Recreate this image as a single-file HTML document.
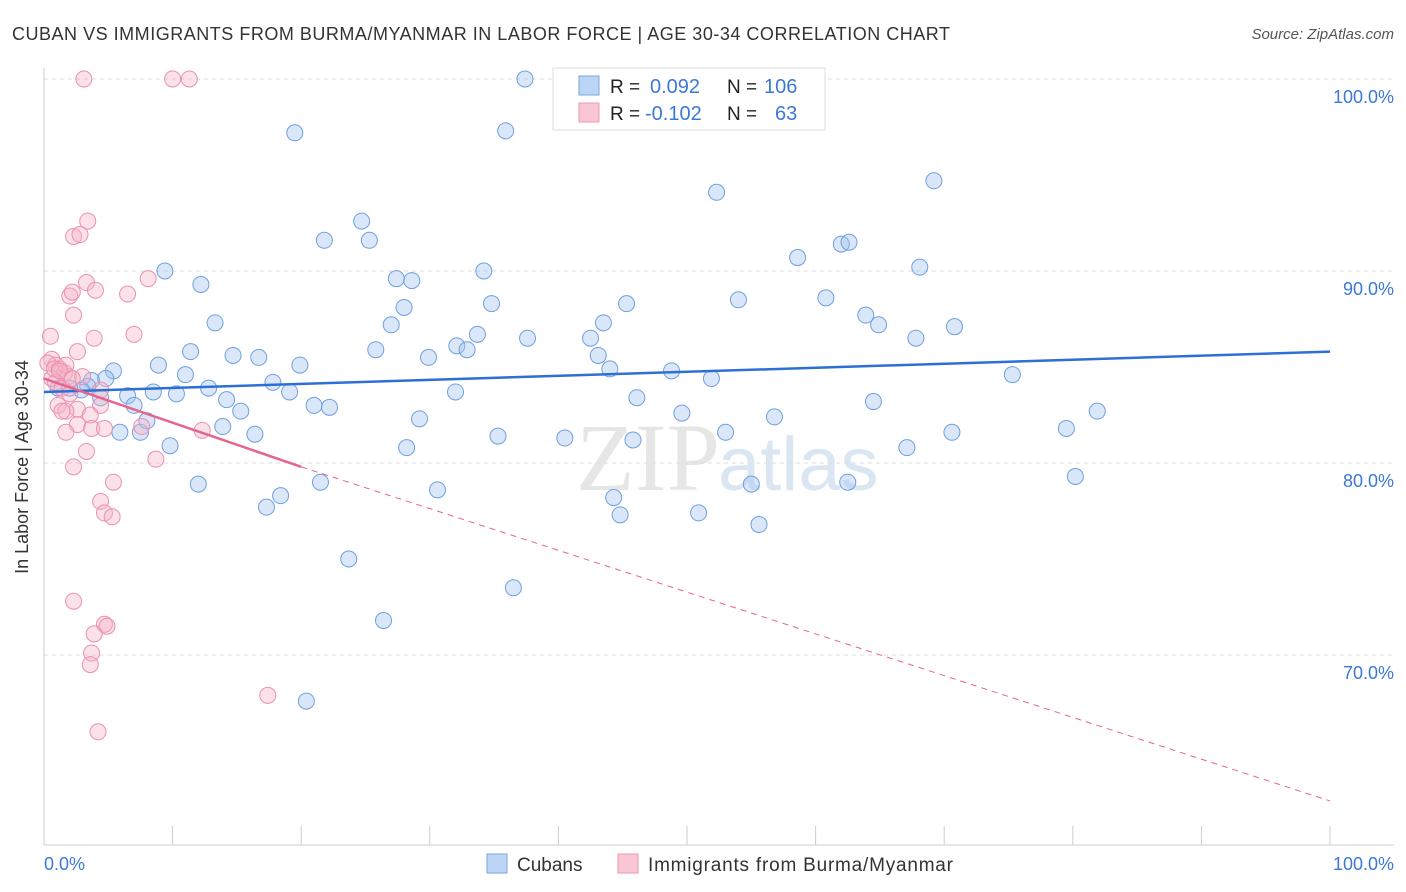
<!DOCTYPE html>
<html><head><meta charset="utf-8"><style>
body{margin:0;background:#fff;font-family:"Liberation Sans",sans-serif;}
svg{display:block}
</style></head><body>
<svg width="1406" height="892" xmlns="http://www.w3.org/2000/svg">
<text x="12" y="40" font-size="18" fill="#333" textLength="938" lengthAdjust="spacing">CUBAN VS IMMIGRANTS FROM BURMA/MYANMAR IN LABOR FORCE | AGE 30-34 CORRELATION CHART</text>
<text x="1394" y="39" font-size="15" fill="#555" font-style="italic" text-anchor="end">Source: ZipAtlas.com</text>
<text x="720" y="490" font-size="96" fill="#e6e6e6" text-anchor="end" font-family="Liberation Serif,serif">ZIP</text>
<text x="718" y="490" font-size="76" fill="#dbe6f3">atlas</text>
<g id="grid"></g>
<line x1="44" y1="68" x2="44" y2="845" stroke="#ccc"/>
<line x1="44" y1="845" x2="1394" y2="845" stroke="#ccc"/>
<g id="xticks"></g>
<text x="19" y="458" font-size="18" fill="#333" text-anchor="middle" transform="rotate(-90 28 458)">In Labor Force | Age 30-34</text>
<text x="44" y="870" font-size="18" fill="#3b78d8">0.0%</text>
<text x="1394" y="870" font-size="18" fill="#3b78d8" text-anchor="end">100.0%</text>
<g id="pts"></g>
<g id="trend"></g>
<g>
<rect x="553" y="68" width="272" height="62" fill="#fff" stroke="#ddd"/>
<rect x="579" y="76" width="20" height="19" fill="#bcd5f5" stroke="#7aa6e0"/>
<rect x="579" y="103" width="20" height="19" fill="#f9c6d4" stroke="#ee9ab2"/>
<text x="610" y="93" font-size="19" fill="#222">R = </text><text x="650" y="93" font-size="20" fill="#3b78d8">0.092</text>
<text x="727" y="93" font-size="19" fill="#222">N = </text><text x="764" y="93" font-size="20" fill="#3b78d8">106</text>
<text x="610" y="120" font-size="19" fill="#222">R = </text><text x="645" y="120" font-size="20" fill="#3b78d8">-0.102</text>
<text x="727" y="120" font-size="19" fill="#222">N = </text><text x="775" y="120" font-size="20" fill="#3b78d8">63</text>
</g>
<g>
<rect x="487" y="854" width="20" height="19" fill="#bcd5f5" stroke="#7aa6e0"/>
<text x="517" y="871" font-size="19" fill="#333">Cubans</text>
<rect x="618" y="854" width="20" height="19" fill="#f9c6d4" stroke="#ee9ab2"/>
<text x="648" y="871" font-size="19" fill="#333" textLength="305" lengthAdjust="spacing">Immigrants from Burma/Myanmar</text>
</g>
</svg>
<script>
const yTicks=[100,90,80,70];
const yTickLabels=["100.0%","90.0%","80.0%","70.0%"];
const xTickVals=[0,10,20,30,40,50,60,70,80,90,100];
const blueX=[37.4,19.5,35.9,52.3,69.2,24.7,21.8,25.3,62.0,62.6,9.4,34.2,58.6,68.1,12.2,27.4,28.6,34.8,28.0,45.3,54.0,60.8,13.3,27.0,43.5,63.9,64.9,70.8,33.7,37.6,42.5,67.8,25.8,32.1,32.9,11.4,14.7,16.7,29.9,43.1,8.9,19.9,5.4,44.0,48.8,51.9,75.3,3.7,4.8,11.0,17.8,1.1,3.4,12.8,8.5,10.3,19.1,32.0,6.5,4.4,14.2,7.0,46.1,64.5,15.3,21.0,22.2,81.9,49.6,56.8,29.2,13.9,5.9,7.5,16.4,35.3,40.5,53.0,70.6,79.5,9.8,28.2,45.8,67.1,21.5,12.0,30.6,55.0,62.5,80.2,18.4,17.3,44.3,44.8,50.9,55.6,23.7,36.5,26.4,20.4,8.0,2.9,2.0];
const blueY=[100,97.2,97.3,94.1,94.7,92.6,91.6,91.6,91.4,91.5,90.0,90.0,90.7,90.2,89.3,89.6,89.5,88.3,88.1,88.3,88.5,88.6,87.3,87.2,87.3,87.7,87.2,87.1,86.7,86.5,86.5,86.5,85.9,86.1,85.9,85.8,85.6,85.5,85.5,85.6,85.1,85.1,84.8,84.9,84.8,84.4,84.6,84.3,84.4,84.6,84.2,83.9,84.0,83.9,83.7,83.6,83.7,83.7,83.5,83.4,83.3,83.0,83.4,83.2,82.7,83.0,82.9,82.7,82.6,82.4,82.3,81.9,81.6,81.6,81.5,81.4,81.3,81.6,81.6,81.8,80.9,80.8,81.2,80.8,79.0,78.9,78.6,78.9,79.0,79.3,78.3,77.7,78.2,77.3,77.4,76.8,75.0,73.5,71.8,67.6,82.2,83.8,83.9];
const pinkX=[3.1,10.0,11.3,3.4,2.3,2.8,3.3,8.1,4.0,2.0,2.2,6.5,2.3,3.9,7.0,0.5,2.6,0.6,0.9,0.3,1.2,1.6,1.9,0.6,0.9,3.0,1.4,4.4,2.0,1.1,2.6,4.4,1.7,3.6,1.4,2.6,3.7,4.7,1.7,12.3,3.3,8.7,2.3,5.4,4.4,4.7,5.3,2.3,4.7,4.9,3.9,3.7,3.6,17.4,4.2,7.6,0.8,1.7,1.2,2.2];
const pinkY=[100,100,100,92.6,91.8,91.9,89.4,89.6,89.0,88.7,88.9,88.8,87.7,86.5,86.7,86.6,85.8,85.4,85.1,85.2,84.9,84.7,84.5,84.4,84.2,84.5,83.9,83.8,83.6,83.0,82.8,83.0,82.7,82.5,82.7,82.0,81.8,81.8,81.6,81.7,80.6,80.2,79.8,79.0,78.0,77.4,77.2,72.8,71.6,71.5,71.1,70.1,69.5,67.9,66.0,81.9,84.9,85.1,84.8,84.4];
const ns="http://www.w3.org/2000/svg";
const X=v=>44+v*12.86, Y=v=>79+(100-v)*19.2;
function mk(t,a,p){const e=document.createElementNS(ns,t);for(const k in a)e.setAttribute(k,a[k]);document.getElementById(p).appendChild(e);return e;}
yTicks.forEach((v,i)=>{
 const l=mk('line',{x1:44,x2:1394,y1:Y(v),y2:Y(v),stroke:'#ddd','stroke-dasharray':'4,4'},'grid');
 
 
 const t=mk('text',{x:1394,y:Y(v)+24,'font-size':18,fill:'#3b78d8','text-anchor':'end'},'grid');
 t.textContent=yTickLabels[i];
 
 
});
xTickVals.forEach(v=>{
 const l=mk('line',{x1:X(v),x2:X(v),y1:826,y2:845,stroke:'#ccc'},'xticks');
 
 
});
blueX.forEach((x,i)=>{
 const c=mk('circle',{cx:X(x),cy:Y(blueY[i]),r:8,fill:'rgba(160,196,240,0.4)',stroke:'#6f9fe0','stroke-width':1},'pts');
 
 
});
pinkX.forEach((x,i)=>{
 const c=mk('circle',{cx:X(x),cy:Y(pinkY[i]),r:8,fill:'rgba(246,180,200,0.4)',stroke:'#ec90ad','stroke-width':1},'pts');
 
 
});
const bt=mk('line',{x1:X(0),y1:Y(83.7),x2:X(100),y2:Y(85.8),stroke:'#2d6fd6','stroke-width':2.5},'trend');


const ps=mk('line',{x1:X(0),y1:Y(84.4),x2:X(20),y2:Y(79.8),stroke:'#e5658e','stroke-width':2.5},'trend');


const pd=mk('line',{x1:X(20),y1:Y(79.8),x2:X(100),y2:Y(62.4),stroke:'#e5658e','stroke-width':1,'stroke-dasharray':'6,5'},'trend');


</script>
</body></html>
